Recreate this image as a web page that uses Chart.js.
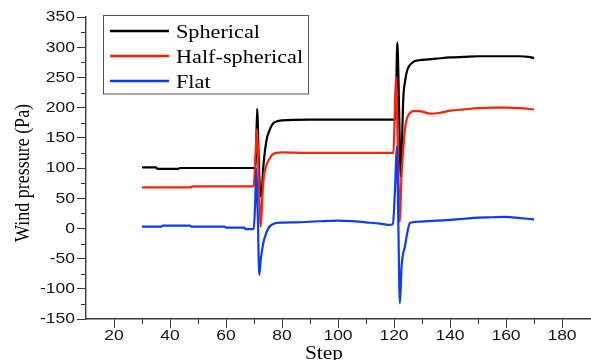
<!DOCTYPE html>
<html>
<head>
<meta charset="utf-8">
<script src="https://cdn.jsdelivr.net/npm/chart.js@4/dist/chart.umd.min.js"></script>
<style>
  html, body { margin: 0; padding: 0; background: #fff; }
  canvas { display: block; }
</style>
</head>
<body>
<canvas id="chart" width="591" height="360"></canvas>
<script>
// ===== Data =====
const seriesLabels = ["Spherical", "Half-spherical", "Flat"];
const seriesColors = ["#000000", "#ff2200", "#0a3cff"];

const sphericalSteps  = [30, 35, 35.5, 43, 43.5, 70.6, 71.1, 71.8, 72.4, 72.8, 73.3, 74.5, 75.5, 76.5, 78, 80, 90, 100, 110, 120.5, 121.2, 121.8, 122.4, 122.9, 123.3, 124, 124.8, 126, 127.5, 130, 135, 140, 145, 150, 155, 160, 165, 168, 170];
const sphericalValues = [101, 101, 98.5, 98.5, 100, 100, 198, 97, 53, 62, 100, 147, 162, 172, 177, 179, 180, 180, 180, 180, 308, 200, 86, 150, 213, 245, 263, 272, 277, 279, 281, 283, 284, 285, 285, 285, 285, 284, 282];

const halfSteps  = [30, 47.5, 48, 69.9, 70.5, 71.1, 71.7, 72.4, 73, 73.5, 74.3, 75.5, 76.5, 78, 80, 90, 100, 110, 119.8, 120.2, 120.7, 121.3, 122.1, 122.6, 123.3, 123.9, 124.6, 125.7, 127, 129.3, 131, 133, 136, 140, 145, 150, 155, 160, 165, 170];
const halfValues = [68, 68, 69.5, 69.5, 120, 165, 80, 3, 55, 85, 103, 115, 122, 125, 126, 125, 125, 125, 125, 180, 251, 150, 11, 80, 130, 164, 182, 191, 194, 194, 192, 190, 191, 195, 197, 199, 200, 200, 199, 197];

const flatSteps  = [30, 37, 37.5, 47, 47.5, 59.5, 60, 66.5, 67, 69.9, 70.4, 70.8, 71.3, 71.9, 72.4, 73.3, 73.9, 75.1, 76.3, 79.3, 85, 90, 100, 105, 110, 115, 118, 119.6, 120, 120.4, 121, 121.5, 122.1, 122.7, 123.3, 123.9, 124.7, 125.7, 128, 135, 140, 145, 150, 155, 160, 165, 170];
const flatValues = [3, 3, 4.6, 4.6, 3, 3, 1.3, 1.3, -1.3, -1.3, 40, 100, 30, -77, -52, -25, -14, 0, 6, 9.5, 10, 11, 13, 12, 10, 8, 6, 7, 30, 70, 136, 20, -124, -63, -41, -30, -8, 9, 11, 13, 14, 16, 18, 18.5, 19, 17, 15];

// Axis ticks
const xTickValues  = [20, 40, 60, 80, 100, 120, 140, 160, 180];
const xMinorValues = [30, 50, 70, 90, 110, 130, 150, 170];
const yTickValues  = [-150, -100, -50, 0, 50, 100, 150, 200, 250, 300, 350];
const yMinorValues = [-125, -75, -25, 25, 75, 125, 175, 225, 275, 325];

const xTitle = "Step";
const yTitle = "Wind pressure (Pa)";

const AXIS_COLOR = "#3a3a3a";
const TEXT_COLOR = "#151515";

// ===== Helpers =====
function toPoints(steps, values) {
  return steps.map((s, i) => ({ x: s, y: values[i] }));
}

// draw text squeezed/stretched horizontally (the reference is wider than normal fonts)
function wideText(ctx, text, x, y, sx, align, baseline) {
  ctx.save();
  ctx.translate(x, y);
  ctx.scale(sx, 1);
  ctx.textAlign = align;
  ctx.textBaseline = baseline;
  ctx.fillText(text, 0, 0);
  ctx.restore();
}

// Minor ticks, tick labels, titles and the boxed legend
const decorPlugin = {
  id: "decor",
  afterDraw(chart) {
    const ctx = chart.ctx;
    const xs = chart.scales.x, ys = chart.scales.y;
    const area = chart.chartArea;
    ctx.save();

    // minor ticks
    ctx.strokeStyle = AXIS_COLOR;
    ctx.lineWidth = 1;
    ctx.beginPath();
    yMinorValues.forEach(v => {
      const py = Math.round(ys.getPixelForValue(v)) + 0.5;
      ctx.moveTo(area.left - 5, py);
      ctx.lineTo(area.left, py);
    });
    xMinorValues.forEach(v => {
      const px = Math.round(xs.getPixelForValue(v)) + 0.5;
      ctx.moveTo(px, area.bottom);
      ctx.lineTo(px, area.bottom + 5);
    });
    ctx.stroke();

    // tick labels
    ctx.fillStyle = TEXT_COLOR;
    ctx.font = "14px 'Liberation Sans', Arial, sans-serif";
    yTickValues.forEach(v => {
      wideText(ctx, String(v), area.left - 11, ys.getPixelForValue(v) + 0.5, 1.25, "right", "middle");
    });
    xTickValues.forEach(v => {
      wideText(ctx, String(v), xs.getPixelForValue(v), 340, 1.25, "center", "alphabetic");
    });

    // axis titles
    ctx.fillStyle = "#000";
    ctx.font = "18px 'Liberation Serif', 'Times New Roman', serif";
    wideText(ctx, xTitle, 324, 359, 1.19, "center", "alphabetic");
    ctx.save();
    ctx.translate(23, 173);
    ctx.rotate(-Math.PI / 2);
    ctx.scale(1, 1.18);
    ctx.textAlign = "center";
    ctx.textBaseline = "middle";
    ctx.fillText(yTitle, 0, 0);
    ctx.restore();

    // legend box
    ctx.strokeStyle = "#555";
    ctx.lineWidth = 1;
    ctx.strokeRect(103.5, 15.5, 205, 78.5);
    ctx.font = "19px 'Liberation Serif', 'Times New Roman', serif";
    chart.data.datasets.forEach((ds, i) => {
      const rowY = 31 + i * 25;
      ctx.strokeStyle = ds.borderColor;
      ctx.lineWidth = 2.5;
      ctx.beginPath();
      ctx.moveTo(110, rowY);
      ctx.lineTo(169, rowY);
      ctx.stroke();
      ctx.fillStyle = "#000";
      wideText(ctx, ds.label, 176, rowY + 6.5, 1.17, "left", "alphabetic");
    });

    ctx.restore();
  }
};

// ===== Chart =====
const datasets = [
  { label: seriesLabels[0], data: toPoints(sphericalSteps, sphericalValues), borderColor: seriesColors[0], order: 3 },
  { label: seriesLabels[1], data: toPoints(halfSteps, halfValues), borderColor: seriesColors[1], order: 2 },
  { label: seriesLabels[2], data: toPoints(flatSteps, flatValues), borderColor: seriesColors[2], order: 1 },
].map(ds => Object.assign(ds, {
  borderWidth: 2.2,
  pointRadius: 0,
  fill: false,
  cubicInterpolationMode: "monotone",
}));

new Chart(document.getElementById("chart"), {
  type: "line",
  data: { datasets },
  options: {
    responsive: false,
    animation: false,
    layout: { padding: { top: 17, right: 1, left: 0, bottom: 0 } },
    plugins: { legend: { display: false }, tooltip: { enabled: false } },
    scales: {
      x: {
        type: "linear",
        min: 10,
        max: 190,
        afterBuildTicks: axis => { axis.ticks = xTickValues.map(v => ({ value: v })); },
        afterFit: axis => { axis.height = 41; },
        grid: { display: true, drawOnChartArea: false, drawTicks: true, tickLength: 9, color: AXIS_COLOR, lineWidth: 1 },
        border: { display: true, color: AXIS_COLOR, width: 1.4 },
        ticks: { display: false, autoSkip: false },
      },
      y: {
        type: "linear",
        min: -150,
        max: 350,
        afterBuildTicks: axis => { axis.ticks = yTickValues.map(v => ({ value: v })); },
        afterFit: axis => { axis.width = 86; },
        grid: { display: true, drawOnChartArea: false, drawTicks: true, tickLength: 9, color: AXIS_COLOR, lineWidth: 1 },
        border: { display: true, color: AXIS_COLOR, width: 1.4 },
        ticks: { display: false, autoSkip: false },
      }
    }
  },
  plugins: [decorPlugin]
});
</script>
</body>
</html>
